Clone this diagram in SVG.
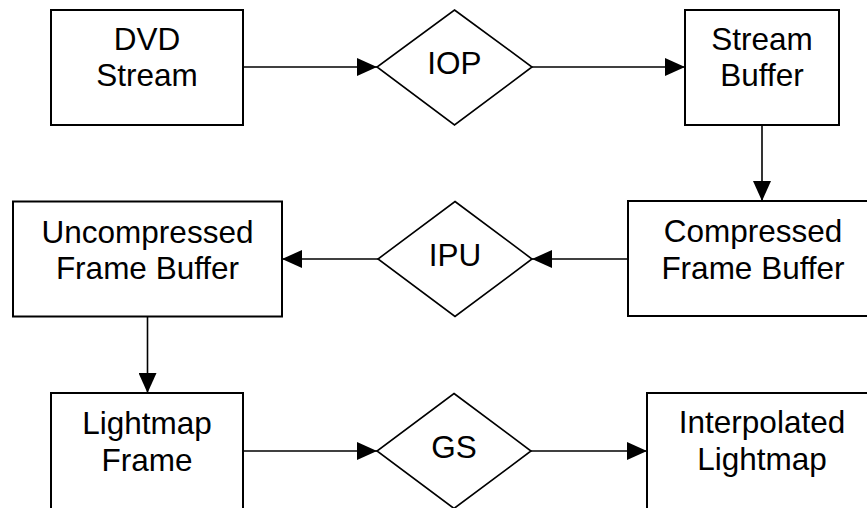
<svg xmlns="http://www.w3.org/2000/svg" width="867" height="508" viewBox="0 0 867 508">
  <style>
    .box { fill: #ffffff; stroke: #000000; stroke-width: 2; }
    .dia { fill: #ffffff; stroke: #000000; stroke-width: 1.6; }
    .edge { fill: none; stroke: #000000; stroke-width: 1.6; }
    text { font-family: "Liberation Sans", Arial, sans-serif; font-size: 31.5px; fill: #000000; text-anchor: middle; }
  </style>
  <defs>
    <marker id="arrow" viewBox="0 0 20 18" refX="20" refY="9" markerWidth="20" markerHeight="18" markerUnits="userSpaceOnUse" orient="auto">
      <path d="M0,0 L20,9 L0,18 Z" fill="#000000"/>
    </marker>
  </defs>

  <rect width="867" height="508" fill="#ffffff"/>

  <g id="connectors">
    <line class="edge" x1="243" y1="67" x2="377" y2="67" marker-end="url(#arrow)"/>
    <line class="edge" x1="532" y1="67" x2="685" y2="67" marker-end="url(#arrow)"/>
    <line class="edge" x1="762" y1="125" x2="762" y2="201" marker-end="url(#arrow)"/>
    <line class="edge" x1="628" y1="259" x2="532" y2="259" marker-end="url(#arrow)"/>
    <line class="edge" x1="378" y1="259" x2="282" y2="259" marker-end="url(#arrow)"/>
    <line class="edge" x1="147.5" y1="317" x2="147.5" y2="393" marker-end="url(#arrow)"/>
    <line class="edge" x1="243" y1="451" x2="377" y2="451" marker-end="url(#arrow)"/>
    <line class="edge" x1="531" y1="451" x2="647" y2="451" marker-end="url(#arrow)"/>
  </g>

  <g id="dvd-stream">
    <rect class="box" x="51" y="10" width="192" height="115"/>
    <text x="147" y="50">DVD</text>
    <text x="147" y="86">Stream</text>
  </g>

  <g id="iop">
    <polygon class="dia" points="454.5,10 532,67 454.5,125 377,67"/>
    <text x="454.5" y="74">IOP</text>
  </g>

  <g id="stream-buffer">
    <rect class="box" x="685" y="10" width="154" height="115"/>
    <text x="762" y="49.5">Stream</text>
    <text x="762" y="86">Buffer</text>
  </g>

  <g id="compressed-frame-buffer">
    <rect class="box" x="628" y="201" width="250" height="115"/>
    <text x="753" y="241.5">Compressed</text>
    <text x="753" y="278.5">Frame Buffer</text>
  </g>

  <g id="ipu">
    <polygon class="dia" points="455,201.5 532,259 455,316.5 378,259"/>
    <text x="455" y="265.5">IPU</text>
  </g>

  <g id="uncompressed-frame-buffer">
    <rect class="box" x="13" y="201.5" width="269" height="115"/>
    <text x="147.5" y="242.5">Uncompressed</text>
    <text x="147.5" y="279">Frame Buffer</text>
  </g>

  <!-- bottom row runs past the lower edge of the sheet -->
  <g id="lightmap-frame">
    <rect class="box" x="51" y="393" width="192" height="122"/>
    <text x="147" y="433.5">Lightmap</text>
    <text x="147" y="470.5">Frame</text>
  </g>

  <g id="gs">
    <polygon class="dia" points="454,393.5 531,451 454,508.5 377,451"/>
    <text x="454" y="458">GS</text>
  </g>

  <g id="interpolated-lightmap">
    <rect class="box" x="647" y="393" width="230" height="122"/>
    <text x="762" y="433">Interpolated</text>
    <text x="762" y="469.5">Lightmap</text>
  </g>
</svg>
